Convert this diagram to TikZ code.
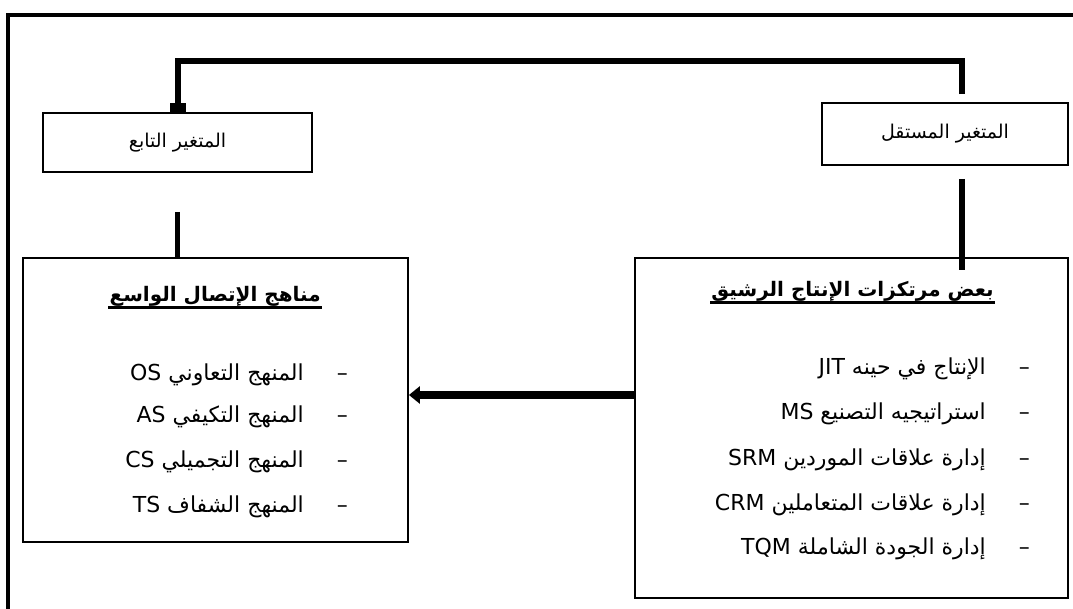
\documentclass[tikz,border=0pt]{standalone}
\usepackage{fontspec}
\setmainfont{DejaVu Sans}
\newfontfamily\arabicfont[Script=Arabic]{DejaVu Sans}
\TeXXeTstate=1
\usetikzlibrary{arrows.meta,positioning}
\tikzset{
  varbox/.style={
    draw=black,
    line width=1.8pt,
    font=\arabicfont\fontsize{19}{22}\selectfont,
    inner sep=0pt
  },
  listbox/.style={
    draw=black,
    line width=1.8pt,
    inner sep=0pt
  },
  headtext/.style={
    font=\arabicfont\bfseries\fontsize{20}{24}\selectfont,
    inner sep=1pt,
    anchor=south east
  },
  itemtext/.style={
    font=\arabicfont\fontsize{22}{26}\selectfont,
    inner sep=0pt,
    anchor=east,
    text height=16pt,
    text depth=7pt
  },
  headrule/.style={line width=3pt},
  linkline/.style={line width=6pt,-{Square[length=9pt,width=16pt]}},
  stemline/.style={line width=5.5pt},
  flowarrow/.style={line width=8pt,-{Triangle[length=11pt,width=17pt]}},
  frameline/.style={line width=4.5pt}
}

\begin{document}
\begin{tikzpicture}[x=1pt,y=-1pt]
    \useasboundingbox (0,0) rectangle (1073,609);
    % outer frame
    \coordinate (frametop) at (1080,15);
    \coordinate (framebottom) at (8,615);
    \draw[frameline] (frametop) -| (framebottom);

    % variable boxes
    \node[varbox,minimum width=269pt,minimum height=59pt] (dep) at (177.5,142.5) {\beginR المتغير التابع\endR};
    \node[varbox,minimum width=246pt,minimum height=62pt] (indep) at (945,134) {\beginR المتغير المستقل\endR};

    % list boxes
    \node[listbox,minimum width=385pt,minimum height=284pt] (wide) at (215.5,400) {};
    \node[listbox,minimum width=433pt,minimum height=340pt] (lean) at (851.5,428) {};

    % headings
    \node[headtext] (widehead) at (322,308) {\beginR مناهج الإتصال الواسع\endR};
    \node[headtext] (leanhead) at (995,303) {\beginR بعض مرتكزات الإنتاج الرشيق\endR};
    \draw[headrule] (widehead.south west) -- (widehead.south east);
    \draw[headrule] (leanhead.south west) -- (leanhead.south east);

    % lean items
    \node[itemtext] (jit) at (1030,370) {\beginR–\hspace*{33pt}الإنتاج في حينه \beginL JIT\endL\endR};
    \node[itemtext] (ms) at (1030,415) {\beginR–\hspace*{33pt}استراتيجيه التصنيع \beginL MS\endL\endR};
    \node[itemtext] (srm) at (1030,461) {\beginR–\hspace*{33pt}إدارة علاقات الموردين \beginL SRM\endL\endR};
    \node[itemtext] (crm) at (1030,506) {\beginR–\hspace*{33pt}إدارة علاقات المتعاملين \beginL CRM\endL\endR};
    \node[itemtext] (tqm) at (1030,550) {\beginR–\hspace*{33pt}إدارة الجودة الشاملة \beginL TQM\endL\endR};

    % wide items
    \node[itemtext] (os) at (348,376) {\beginR–\hspace*{33pt}المنهج التعاوني \beginL OS\endL\endR};
    \node[itemtext] (as) at (348,418) {\beginR–\hspace*{33pt}المنهج التكيفي \beginL AS\endL\endR};
    \node[itemtext] (cs) at (348,463) {\beginR–\hspace*{33pt}المنهج التجميلي \beginL CS\endL\endR};
    \node[itemtext] (ts) at (348,508) {\beginR–\hspace*{33pt}المنهج الشفاف \beginL TS\endL\endR};

    % connectors
    \draw[linkline] ([xshift=17pt,yshift=8pt]indep.north) -- ++(0,-33) -| (dep.north);
    \draw[stemline] ([xshift=17pt,yshift=-13pt]indep.south) -- ([xshift=17pt,yshift=-13pt]indep.south |- lean.north);
    \draw[stemline] ([yshift=-39pt]dep.south) -- (dep.south |- wide.north);
    \draw[flowarrow] ([yshift=33pt]lean.west) -- ([yshift=33pt]lean.west -| wide.east);
  \end{tikzpicture}
\end{document}
